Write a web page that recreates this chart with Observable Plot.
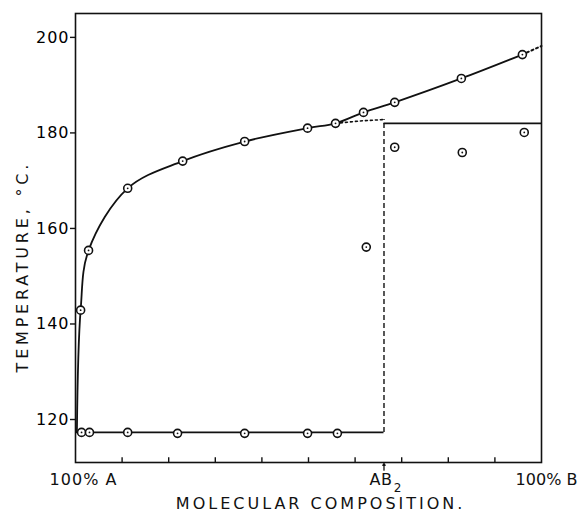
<!DOCTYPE html>
<html>
<head>
<meta charset="utf-8">
<script src="https://cdn.jsdelivr.net/npm/d3@7"></script>
<script src="https://cdn.jsdelivr.net/npm/@observablehq/plot@0.6"></script>
<style>
  html, body { margin: 0; padding: 0; background: #fff; }
  svg { font-family: "DejaVu Sans", sans-serif; }
</style>
</head>
<body>
<div id="chart"></div>
<script>
// Liquidus curve (solid), points the curve passes through
const liqX = [0.003, 0.011, 0.028, 0.112, 0.23, 0.363, 0.498, 0.558, 0.618, 0.685, 0.828, 0.959];
const liqT = [117.5, 142.9, 155.4, 168.4, 174.1, 178.2, 181.0, 182.0, 184.3, 186.4, 191.4, 196.4];
// measured points on the liquidus (circles)
const liqPtX = [0.011, 0.028, 0.112, 0.23, 0.363, 0.498, 0.558, 0.618, 0.685, 0.828, 0.959];
const liqPtT = [142.9, 155.4, 168.4, 174.1, 178.2, 181.0, 182.0, 184.3, 186.4, 191.4, 196.4];
// dotted extension past last point
const extX = [0.959, 1.0];
const extT = [196.4, 198.2];
// metastable (dotted) liquidus to AB2
const metaX = [0.558, 0.61, 0.662];
const metaT = [182.0, 182.5, 182.8];
// eutectic arrest points
const eutX = [0.013, 0.030, 0.112, 0.219, 0.363, 0.498, 0.562];
const eutT = [117.3, 117.3, 117.3, 117.1, 117.1, 117.1, 117.1];
const eutLevel = 117.3;
// AB2 composition and peritectic level
const ab2 = 0.662;
const periLevel = 182.0;
// other isolated points
const othX = [0.624, 0.685, 0.830, 0.963];
const othT = [156.1, 177.0, 175.9, 180.1];
// axis ticks
const yTicks = [120, 140, 160, 180, 200];
const xMinor = [0.1, 0.2, 0.3, 0.4, 0.5, 0.6, 0.7, 0.8, 0.9];
const xLabelPos = [0, 1];
const xLabelText = ["100% A", "100% B"];
const yTitle = "TEMPERATURE, °C.";
const xTitle = "MOLECULAR COMPOSITION.";

const pts = (xs, ts) => xs.map((x, i) => ({x, t: ts[i]}));
const liq = pts(liqX, liqT);
const liqPts = pts(liqPtX, liqPtT);
const ext = pts(extX, extT);
const meta = pts(metaX, metaT);
const eut = pts(eutX, eutT);
const oth = pts(othX, othT);
const allPts = [...liqPts, ...eut, ...oth];

const chart = Plot.plot({
  width: 582,
  height: 518,
  marginLeft: 75,
  marginRight: 41,
  marginTop: 13,
  marginBottom: 56,
  style: {fontFamily: "DejaVu Sans, sans-serif", color: "#000", background: "#fff"},
  x: {domain: [0, 1]},
  y: {domain: [111, 205]},
  marks: [
    Plot.frame({stroke: "#111", strokeWidth: 1.6}),
    Plot.axisY({ticks: yTicks, tickSize: 5, tickPadding: 1, fontSize: 16, tickFormat: d3.format("d"),
      label: null, stroke: "#111", strokeWidth: 1.4}),
    Plot.text([yTitle], {y: 152, text: d => d, frameAnchor: "left", textAnchor: "middle", dx: -53, rotate: -90, fontSize: 16, fill: "#111"}),
    Plot.axisX({ticks: [], label: null}),
    Plot.ruleX(xMinor, {y1: 111, y2: 112, stroke: "#111", strokeWidth: 1.4}),
    // curves
    Plot.line(liq, {x: "x", y: "t", curve: "catmull-rom", stroke: "#111", strokeWidth: 1.8}),
    Plot.line(ext, {x: "x", y: "t", stroke: "#111", strokeWidth: 2, strokeDasharray: "2,3"}),
    Plot.line(meta, {x: "x", y: "t", stroke: "#111", strokeWidth: 1.6, strokeDasharray: "2,3"}),
    Plot.ruleX([ab2], {y1: eutLevel, y2: 182.8, stroke: "#111", strokeWidth: 1.4, strokeDasharray: "5,3"}),
    Plot.ruleY([eutLevel], {x1: 0, x2: ab2, stroke: "#111", strokeWidth: 1.8}),
    Plot.ruleY([periLevel], {x1: ab2, x2: 1, stroke: "#111", strokeWidth: 1.8}),
    // circles
    Plot.dot(allPts, {x: "x", y: "t", r: 4, stroke: "#111", strokeWidth: 1.6, fill: "#fff"}),
    Plot.dot(allPts, {x: "x", y: "t", r: 0.9, fill: "#111"}),
    // x labels
    Plot.text(xLabelPos, {x: d => d, text: (d, i) => xLabelText[i], frameAnchor: "bottom", dy: 22, fontSize: 16, fill: "#111", dx: 8}),
    Plot.text(["AB"], {x: ab2, text: d => d, frameAnchor: "bottom", dy: 22, fontSize: 16, fill: "#111", dx: -3}),
    Plot.text(["2"], {x: ab2, text: d => d, frameAnchor: "bottom", dy: 29, fontSize: 12, fill: "#111", dx: 14}),
    Plot.arrow([ab2], {x1: d => d, x2: d => d, y1: 109.4, y2: 110.8, stroke: "#111", strokeWidth: 1.3, headLength: 5}),
    Plot.text([xTitle], {x: 0.526, text: d => d, frameAnchor: "bottom", dy: 46, fontSize: 16, fill: "#111"})
  ]
});
document.getElementById("chart").appendChild(chart);
const svg = d3.select(chart);
svg.selectAll("text").attr("letter-spacing", "1px");
svg.selectAll("text").filter(function() { return this.textContent === "100% B"; })
  .attr("letter-spacing", "0px").attr("dx", -3);
svg.selectAll("text").filter(function() { return this.textContent === "AB"; })
  .attr("letter-spacing", "0.5px");
svg.selectAll("text").filter(function() { return this.textContent === yTitle; })
  .attr("letter-spacing", "3.8px");
svg.selectAll("text").filter(function() { return this.textContent === xTitle; })
  .attr("letter-spacing", "3px");
</script>
</body>
</html>
